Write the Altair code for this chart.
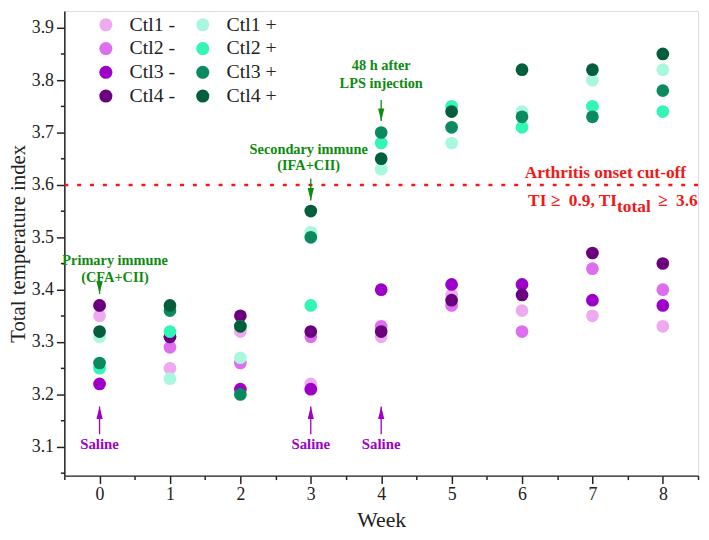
import altair as alt
import pandas as pd

weeks = [0, 1, 2, 3, 4, 5, 6, 7, 8]
groups = ["Ctl1 -", "Ctl2 -", "Ctl3 -", "Ctl4 -", "Ctl1 +", "Ctl2 +", "Ctl3 +", "Ctl4 +"]
ctl1_minus = [3.35, 3.25, 3.32, 3.22, 3.31, 3.39, 3.36, 3.35, 3.33]
ctl2_minus = [3.37, 3.29, 3.26, 3.31, 3.33, 3.37, 3.32, 3.44, 3.40]
ctl3_minus = [3.22, 3.31, 3.21, 3.21, 3.40, 3.41, 3.41, 3.38, 3.37]
ctl4_minus = [3.37, 3.31, 3.35, 3.32, 3.32, 3.38, 3.39, 3.47, 3.45]
ctl1_plus = [3.31, 3.23, 3.27, 3.51, 3.63, 3.68, 3.74, 3.80, 3.82]
ctl2_plus = [3.25, 3.32, 3.33, 3.37, 3.68, 3.75, 3.71, 3.75, 3.74]
ctl3_plus = [3.26, 3.36, 3.20, 3.50, 3.70, 3.71, 3.73, 3.73, 3.78]
ctl4_plus = [3.32, 3.37, 3.33, 3.55, 3.65, 3.74, 3.82, 3.82, 3.85]
colors = ["#eeaaf0", "#dd6ef0", "#9d00c6", "#6b007f", "#aaf7df", "#33f5b5", "#0b8a5e", "#035e3c"]

series = [ctl1_minus, ctl2_minus, ctl3_minus, ctl4_minus, ctl1_plus, ctl2_plus, ctl3_plus, ctl4_plus]
rows = []
for gi, (g, vals) in enumerate(zip(groups, series)):
    for w, v in zip(weeks, vals):
        rows.append({"week": w, "value": v, "group": g, "ord": gi})
df = pd.DataFrame(rows)

cutoff = 3.6
serif = "Liberation Serif"
ink = "#222"

x_major = [0, 1, 2, 3, 4, 5, 6, 7, 8]
x_minor = [-0.5, 0.5, 1.5, 2.5, 3.5, 4.5, 5.5, 6.5, 7.5, 8.5]
y_major = [3.1, 3.2, 3.3, 3.4, 3.5, 3.6, 3.7, 3.8, 3.9]
y_minor = [3.05, 3.15, 3.25, 3.35, 3.45, 3.55, 3.65, 3.75, 3.85]

x_scale = alt.Scale(domain=[-0.5, 8.5], nice=False, zero=False)
y_scale = alt.Scale(domain=[3.045, 3.932], nice=False, zero=False)

axis_style = dict(grid=False, labelOverlap=False, labelFont=serif, titleFont=serif,
                  labelFontSize=18, titleFontWeight="normal",
                  labelColor=ink, titleColor=ink, domainColor=ink, tickColor=ink,
                  domainWidth=1.5, tickWidth=1.5, tickSize=8)

x_enc = alt.X("week:Q", scale=x_scale,
              axis=alt.Axis(values=x_major, title="Week", format="d", labelPadding=2, titlePadding=6,
                            titleFontSize=22, **axis_style))
y_enc = alt.Y("value:Q", scale=y_scale,
              axis=alt.Axis(values=y_major, title="Total temperature index", format=".1f",
                            labelPadding=3, titlePadding=3, titleFontSize=21, **axis_style))
x_plain = alt.X("week:Q", scale=x_scale, axis=None)
y_plain = alt.Y("value:Q", scale=y_scale, axis=None)

points = alt.Chart(df).mark_circle(size=165, opacity=1).encode(
    x=x_enc, y=y_enc,
    color=alt.Color("group:N", scale=alt.Scale(domain=groups, range=colors),
                    legend=alt.Legend(title=None, orient="none", legendX=32, legendY=4, columns=2,
                                      columnPadding=17, rowPadding=4, symbolSize=175, symbolType="circle",
                                      symbolOpacity=1, labelFont=serif, labelFontSize=20, labelColor=ink,
                                      labelOffset=14)),
    order=alt.Order("ord:Q"),
)

minor_df = pd.DataFrame({"week": [0], "value": [3.6]})
minor = alt.Chart(minor_df).mark_point(opacity=0).encode(
    x=alt.X("week:Q", scale=x_scale,
            axis=alt.Axis(values=x_minor, title=None, labels=False, domain=False, grid=False,
                          tickSize=4, tickWidth=1.5, tickColor=ink, orient="bottom")),
    y=alt.Y("value:Q", scale=y_scale,
            axis=alt.Axis(values=y_minor, title=None, labels=False, domain=False, grid=False,
                          tickSize=4, tickWidth=1.5, tickColor=ink, orient="left")),
)

cut_df = pd.DataFrame({"value": [cutoff]})
cut_rule = alt.Chart(cut_df).mark_rule(color="#f01818", strokeWidth=2.5, strokeDash=[4, 9]).encode(y=y_plain)

green = "#0e8a0e"
purple = "#9d00c6"
red = "#f01818"

green_text = pd.DataFrame({
    "week": [0.22, 0.22, 2.97, 2.97, 4.0, 4.0],
    "value": [3.455, 3.423, 3.667, 3.636, 3.826, 3.793],
    "label": ["Primary immune", "(CFA+CII)", "Secondary immune", "(IFA+CII)", "48 h after", "LPS injection"],
})
green_txt = alt.Chart(green_text).mark_text(font=serif, fontWeight="bold", fontSize=14.5, color=green,
                                             align="center", baseline="middle").encode(x=x_plain, y=y_plain, text="label:N")

green_arrows = pd.DataFrame({"week": [0, 3, 4], "value": [3.413, 3.612, 3.762], "tip": [3.392, 3.570, 3.722]})
g_shaft = alt.Chart(green_arrows).mark_rule(color=green, strokeWidth=1.3).encode(
    x=x_plain, y=y_plain, y2="tip:Q")
g_head = alt.Chart(green_arrows).mark_point(shape="M0,0 L-0.5,-2 L0.5,-2 Z", size=160, filled=True,
                                             color=green, opacity=1).encode(
    x=x_plain, y=alt.Y("tip:Q", scale=y_scale, axis=None))

saline = pd.DataFrame({"week": [0, 3, 4], "value": [3.124, 3.124, 3.124], "tip": [3.177, 3.177, 3.177],
                       "tv": [3.105, 3.105, 3.105], "label": ["Saline", "Saline", "Saline"]})
s_shaft = alt.Chart(saline).mark_rule(color=purple, strokeWidth=1.3).encode(x=x_plain, y=y_plain, y2="tip:Q")
s_head = alt.Chart(saline).mark_point(shape="M0,0 L-0.5,2 L0.5,2 Z", size=160, filled=True,
                                       color=purple, opacity=1).encode(
    x=x_plain, y=alt.Y("tip:Q", scale=y_scale, axis=None))
s_txt = alt.Chart(saline).mark_text(font=serif, fontWeight="bold", fontSize=15, color=purple,
                                     align="center", baseline="middle").encode(
    x=x_plain, y=alt.Y("tv:Q", scale=y_scale, axis=None), text="label:N")

red_size = 17.5
red_right = pd.DataFrame({"week": [8.33], "value": [3.622], "label": ["Arthritis onset cut-off"]})
r1 = alt.Chart(red_right).mark_text(font=serif, fontWeight="bold", fontSize=red_size, color=red,
                                     align="right", baseline="middle").encode(x=x_plain, y=y_plain, text="label:N")
red_a = pd.DataFrame({"week": [7.35], "value": [3.569], "label": ["TI \u2265\u20020.9, TI"]})
red_b = pd.DataFrame({"week": [7.35], "value": [3.557], "label": ["total"]})
red_c = pd.DataFrame({"week": [7.93], "value": [3.569], "label": ["\u2265\u20023.6"]})
r2 = alt.Chart(red_a).mark_text(font=serif, fontWeight="bold", fontSize=red_size, color=red,
                                 align="right", baseline="middle").encode(x=x_plain, y=y_plain, text="label:N")
r3 = alt.Chart(red_b).mark_text(font=serif, fontWeight="bold", fontSize=red_size, color=red,
                                 align="left", baseline="middle").encode(x=x_plain, y=y_plain, text="label:N")
r4 = alt.Chart(red_c).mark_text(font=serif, fontWeight="bold", fontSize=red_size, color=red,
                                 align="left", baseline="middle").encode(x=x_plain, y=y_plain, text="label:N")

chart = alt.layer(points, minor, cut_rule, green_txt, g_shaft, g_head, s_shaft, s_head, s_txt,
                  r1, r2, r3, r4).resolve_axis(x="independent", y="independent").properties(
    width=641, height=470,
    autosize=alt.AutoSizeParams(type="none"),
    padding={"left": 57, "top": 0, "right": 3, "bottom": 55},
).configure_view(stroke=ink, strokeWidth=1.5).configure(background="white")

chart.save("out.html", embed_options={"renderer": "svg", "actions": False})
